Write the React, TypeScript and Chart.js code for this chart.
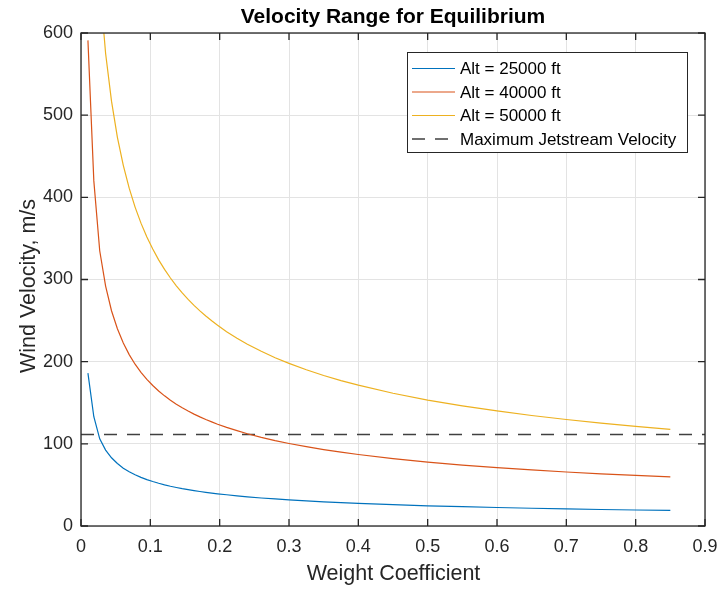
import React, { useEffect, useRef } from "react";
import { Chart, registerables } from "chart.js";

Chart.register(...registerables);

// ---- data ----
const weightCoef = [
  0.01, 0.0185, 0.027, 0.0355, 0.044, 0.0525, 0.061, 0.0695, 0.078, 0.0865,
  0.095, 0.1035, 0.112, 0.1205, 0.129, 0.1375, 0.146, 0.1545, 0.163, 0.1715,
  0.18, 0.1885, 0.197, 0.21, 0.225, 0.24, 0.26, 0.28, 0.3, 0.325, 0.35, 0.375,
  0.4, 0.45, 0.5, 0.55, 0.6, 0.65, 0.7, 0.75, 0.8, 0.85,
];
const alt25000 = [
  186, 133, 106, 92.4, 83, 76, 70.4, 66, 62.3, 59.2,
  56.5, 54.1, 52, 50.1, 48.4, 46.9, 45.5, 44.3, 43.1, 42,
  41, 40.1, 39.2, 38, 36.7, 35.5, 34.1, 32.9, 31.8, 30.5, 29.4, 28.4,
  27.5, 25.9, 24.6, 23.5, 22.5, 21.6, 20.8, 20.1, 19.5, 18.9,
];
const alt40000 = [
  591, 420, 335, 292, 262, 240, 222.7, 208.6, 196.9, 187,
  178.5, 171, 164.3, 158.4, 153.1, 148.3, 143.9, 139.9, 136.2, 132.8,
  129.6, 126.7, 123.9, 120, 116, 112.3, 107.9, 103.9, 100.4, 96.5, 93, 89.8,
  87, 82, 77.8, 74.2, 71, 68.2, 65.7, 63.5, 61.5, 59.7,
];
const alt50000 = [
  1160, 830, 660, 575, 517, 473, 438.9, 411.2, 388.1, 368.6,
  351.7, 337, 323.9, 312.3, 301.8, 292.3, 283.7, 275.8, 268.5, 261.8,
  255.5, 249.7, 244.2, 236.5, 228.5, 221.3, 212.6, 204.8, 197.9, 190.1, 183.2, 177,
  171.4, 161.6, 153.3, 146.2, 140, 134.5, 129.6, 125.2, 121.2, 117.6,
];
const jetstreamX = [0, 0.9];
const jetstreamV = [111.5, 111.5];

const xTickValues = [0, 0.1, 0.2, 0.3, 0.4, 0.5, 0.6, 0.7, 0.8, 0.9];
const xTickLabels = ["0", "0.1", "0.2", "0.3", "0.4", "0.5", "0.6", "0.7", "0.8", "0.9"];
const yTickValues = [0, 100, 200, 300, 400, 500, 600];

const seriesLabels = [
  "Alt = 25000 ft",
  "Alt = 40000 ft",
  "Alt = 50000 ft",
  "Maximum Jetstream Velocity",
];
const seriesColors = ["#0072BD", "#D95319", "#EDB120", "#404040"];

const chartTitle = "Velocity Range for Equilibrium";
const xTitle = "Weight Coefficient";
const yTitle = "Wind Velocity, m/s";

const FONT = "'Liberation Sans', Arial, Helvetica, sans-serif";
const AXIS_COLOR = "#262626";

const toPoints = (xs: number[], ys: number[]) => xs.map((x, i) => ({ x, y: ys[i] }));

const decorPlugin = {
  id: "matlabDecor",
  afterDraw(chart: any) {
    const { ctx, chartArea } = chart;
    const xs = chart.scales.x;
    const ys = chart.scales.y;
    const { left, right, top, bottom } = chartArea;
    ctx.save();
    // box
    ctx.strokeStyle = AXIS_COLOR;
    ctx.lineWidth = 1.3;
    ctx.strokeRect(left, top, right - left, bottom - top);
    // inward ticks
    const tl = 7;
    ctx.beginPath();
    xTickValues.forEach((v) => {
      const px = xs.getPixelForValue(v);
      ctx.moveTo(px, bottom);
      ctx.lineTo(px, bottom - tl);
      ctx.moveTo(px, top);
      ctx.lineTo(px, top + tl);
    });
    yTickValues.forEach((v) => {
      const py = ys.getPixelForValue(v);
      ctx.moveTo(left, py);
      ctx.lineTo(left + tl, py);
      ctx.moveTo(right, py);
      ctx.lineTo(right - tl, py);
    });
    ctx.stroke();

    // title
    ctx.fillStyle = "#000";
    ctx.font = `bold 21px ${FONT}`;
    ctx.textAlign = "center";
    ctx.textBaseline = "alphabetic";
    ctx.fillText(chartTitle, (left + right) / 2, 23);

    // axis titles
    ctx.fillStyle = AXIS_COLOR;
    ctx.font = `21.5px ${FONT}`;
    ctx.textBaseline = "alphabetic";
    ctx.fillText(xTitle, (left + right) / 2 + 0.5, 580);
    ctx.save();
    ctx.translate(35, 286);
    ctx.rotate(-Math.PI / 2);
    ctx.fillText(yTitle, 0, 0);
    ctx.restore();

    // legend
    const lx = 407, ly = 52, lw = 280, lh = 100;
    ctx.fillStyle = "#fff";
    ctx.fillRect(lx, ly, lw, lh);
    ctx.strokeStyle = AXIS_COLOR;
    ctx.lineWidth = 1;
    ctx.strokeRect(lx + 0.5, ly + 0.5, lw, lh);
    const rowY = [68.5, 92, 115.5, 139];
    ctx.font = `17px ${FONT}`;
    ctx.textAlign = "left";
    ctx.textBaseline = "middle";
    seriesLabels.forEach((label, i) => {
      ctx.strokeStyle = seriesColors[i];
      ctx.lineWidth = i === 3 ? 1.5 : 1.2;
      ctx.setLineDash(i === 3 ? [13, 10] : []);
      ctx.beginPath();
      ctx.moveTo(412, rowY[i]);
      ctx.lineTo(455, rowY[i]);
      ctx.stroke();
      ctx.setLineDash([]);
      ctx.fillStyle = "#000";
      ctx.fillText(label, 460, rowY[i] + 1);
    });
    ctx.restore();
  },
};

export default function App() {
  const canvasRef = useRef<HTMLCanvasElement | null>(null);

  useEffect(() => {
    if (!canvasRef.current) return;
    const mk = (i: number, xs: number[], ys: number[], extra: any = {}) => ({
      label: seriesLabels[i],
      data: toPoints(xs, ys),
      borderColor: seriesColors[i],
      borderWidth: 1.2,
      pointRadius: 0,
      tension: 0,
      ...extra,
    });
    const chart = new Chart(canvasRef.current, {
      type: "line",
      data: {
        datasets: [
          mk(0, weightCoef, alt25000),
          mk(1, weightCoef, alt40000),
          mk(2, weightCoef, alt50000),
          mk(3, jetstreamX, jetstreamV, { borderWidth: 1.5, borderDash: [13, 10] }),
        ],
      },
      options: {
        animation: false,
        responsive: true,
        maintainAspectRatio: false,
        layout: { padding: { left: 0, right: 14, top: 33, bottom: 0 } },
        plugins: {
          legend: { display: false },
          title: { display: false },
          tooltip: { enabled: false },
        },
        scales: {
          x: {
            type: "linear",
            min: 0,
            max: 0.9,
            afterFit: (s: any) => {
              s.height = 64;
              s.paddingLeft = 0;
              s.paddingRight = 0;
            },
            afterBuildTicks: (s: any) => {
              s.ticks = xTickValues.map((v) => ({ value: v }));
            },
            ticks: {
              padding: 10,
              color: AXIS_COLOR,
              font: { family: FONT, size: 18 },
              maxRotation: 0,
              callback: (v: any) => {
                const i = xTickValues.findIndex((t) => Math.abs(t - Number(v)) < 1e-9);
                return i >= 0 ? xTickLabels[i] : "";
              },
            },
            grid: { color: "#e3e3e3", lineWidth: 1, drawTicks: false },
            border: { display: false },
          },
          y: {
            type: "linear",
            min: 0,
            max: 600,
            afterFit: (s: any) => {
              s.width = 81;
              s.paddingTop = 0;
              s.paddingBottom = 0;
            },
            afterBuildTicks: (s: any) => {
              s.ticks = yTickValues.map((v) => ({ value: v }));
            },
            ticks: {
              padding: 8,
              color: AXIS_COLOR,
              font: { family: FONT, size: 18 },
              callback: (v: any) => String(v),
            },
            grid: { color: "#e3e3e3", lineWidth: 1, drawTicks: false },
            border: { display: false },
          },
        },
      },
      plugins: [decorPlugin],
    });
    return () => chart.destroy();
  }, []);

  return (
    <div
      style={{
        position: "absolute",
        left: 0,
        top: 0,
        width: 719,
        height: 590,
        background: "#fff",
      }}
    >
      <canvas ref={canvasRef} />
    </div>
  );
}
